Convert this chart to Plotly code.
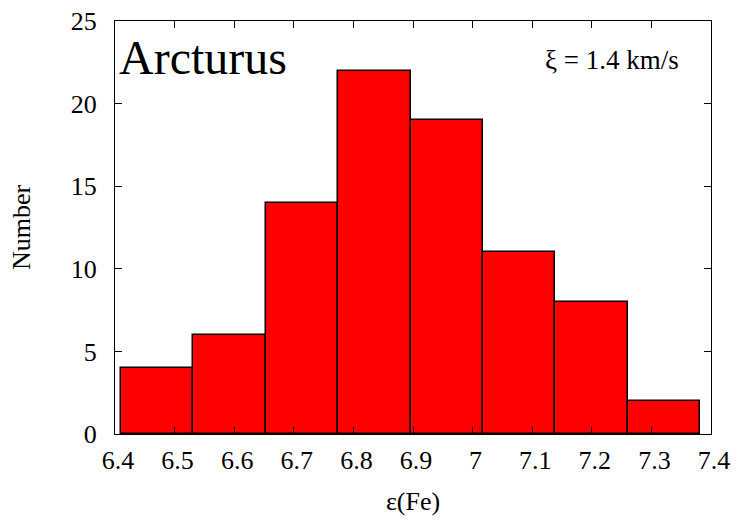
import plotly.graph_objects as go

bin_start = 6.41
bin_width = 0.1215
counts = [4, 6, 14, 22, 19, 11, 8, 2]
centers = [bin_start + bin_width * (i + 0.5) for i in range(len(counts))]
x_ticks = [6.4, 6.5, 6.6, 6.7, 6.8, 6.9, 7.0, 7.1, 7.2, 7.3, 7.4]
x_tick_labels = ["6.4", "6.5", "6.6", "6.7", "6.8", "6.9", "7", "7.1", "7.2", "7.3", "7.4"]
y_ticks = [0, 5, 10, 15, 20, 25]

font_family = "Liberation Serif, DejaVu Serif, serif"

fig = go.Figure()
fig.add_trace(go.Bar(
    x=centers, y=counts, width=[bin_width] * len(counts),
    marker=dict(color="#ff0000", line=dict(color="black", width=1.5)),
    showlegend=False,
))

fig.update_layout(
    width=743, height=525,
    margin=dict(l=115, r=32, t=21, b=91),
    plot_bgcolor="white", paper_bgcolor="white",
    font=dict(family=font_family, size=26, color="black"),
    bargap=0,
    xaxis=dict(
        range=[6.4, 7.4], tickvals=x_ticks, ticktext=x_tick_labels,
        ticks="inside", ticklen=7, tickcolor="black", mirror="ticks",
        showline=True, linecolor="black", linewidth=1, showgrid=False, zeroline=False,
        title=dict(text="ε(Fe)", font=dict(size=26), standoff=17),
        tickfont=dict(size=26), ticklabelstandoff=3, ticklabelshift=3,
        automargin=False,
    ),
    yaxis=dict(
        range=[0, 25], tickvals=y_ticks,
        ticks="inside", ticklen=7, tickcolor="black", mirror="ticks",
        showline=True, linecolor="black", linewidth=1, showgrid=False, zeroline=False,
        title=dict(text="Number", font=dict(size=26), standoff=32),
        tickfont=dict(size=26), ticklabelstandoff=12,
        automargin=False,
    ),
    annotations=[
        dict(text="Arcturus", xref="paper", yref="paper", x=0.003, y=0.911,
             xanchor="left", yanchor="middle", showarrow=False,
             font=dict(size=48, family=font_family)),
        dict(text="ξ = 1.4 km/s", xref="paper", yref="paper", x=0.834, y=0.906,
             xanchor="center", yanchor="middle", showarrow=False,
             font=dict(size=27, family=font_family)),
    ],
)

fig.write_html("out.html")
